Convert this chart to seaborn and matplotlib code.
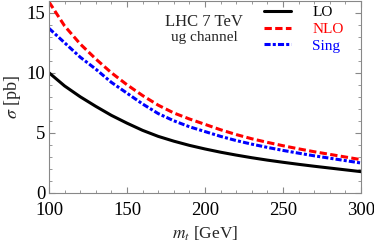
import pandas as pd
import matplotlib.pyplot as plt
import seaborn as sns

# top quark mass (GeV) and cross sections (pb)
mt = [100, 110, 120, 130, 140, 150, 160, 170, 180, 190, 200,
      210, 220, 230, 240, 250, 260, 270, 280, 290, 300]
lo = [10.0, 8.9, 8.0, 7.2, 6.45, 5.8, 5.2, 4.7, 4.3, 3.95, 3.65,
      3.38, 3.14, 2.92, 2.72, 2.54, 2.37, 2.21, 2.06, 1.91, 1.76]
nlo = [15.9, 13.9, 12.4, 11.15, 10.0, 9.0, 8.1, 7.3, 6.65, 6.15, 5.7,
       5.25, 4.85, 4.5, 4.2, 3.92, 3.66, 3.42, 3.2, 2.98, 2.76]
sing = [13.7, 12.5, 11.3, 10.3, 9.2, 8.3, 7.4, 6.6, 6.0, 5.5, 5.1,
        4.7, 4.35, 4.05, 3.78, 3.53, 3.3, 3.08, 2.88, 2.68, 2.48]
labels = ['LO', 'NLO', 'Sing']
colors = ['black', 'red', 'blue']

sns.set_style('ticks')
plt.rcParams['font.family'] = ['Liberation Serif', 'DejaVu Serif']
plt.rcParams['mathtext.fontset'] = 'stix'

df = pd.DataFrame({'mt': mt * 3, 'sigma': lo + nlo + sing,
                   'curve': [l for l in labels for _ in mt]})

fig = plt.figure(figsize=(3.74, 2.44), dpi=100)
ax = fig.add_axes([0.131, 0.21, 0.834, 0.787])
dashes = {'LO': '', 'NLO': (2.4, 1.1), 'Sing': (2.0, 0.7, 1.0, 0.7)}
sns.lineplot(data=df, x='mt', y='sigma', hue='curve', style='curve',
             palette=dict(zip(labels, colors)), dashes=dashes,
             linewidth=2.2, ax=ax, legend=False)

ax.set_xlim(100, 300)
ax.set_ylim(0, 16)
ax.set_xticks([100, 150, 200, 250, 300])
ax.set_yticks([0, 5, 10, 15])
ax.minorticks_on()
ax.tick_params(which='both', direction='in', top=True, right=True, colors='#888888',
               labelcolor='black', labelsize=13.5)
ax.tick_params(which='major', length=4)
ax.tick_params(which='minor', length=2)
ax.tick_params(axis='x', which='major', pad=6.5)
ax.tick_params(axis='y', which='major', pad=2.5)
for s in ax.spines.values():
    s.set_color('#888888')
    s.set_linewidth(0.8)
ax.set_xlabel('$m_t$ [GeV]', fontsize=12.5, labelpad=4)
ax.set_ylabel(r'$\sigma$ [pb]', fontsize=13, labelpad=3)

ax.text(0.497, 0.87, 'LHC 7 TeV', transform=ax.transAxes, ha='center', fontsize=12)
ax.text(0.497, 0.79, 'ug channel', transform=ax.transAxes, ha='center', fontsize=11)

handles = ax.get_lines()[:3]
leg = ax.legend(handles, labels, loc='upper right', bbox_to_anchor=(0.945, 0.975),
                frameon=False, fontsize=11, handlelength=1.75, handletextpad=1.4,
                labelspacing=0.2, borderaxespad=0, borderpad=0)
for t, c in zip(leg.get_texts(), colors):
    t.set_color(c)

fig.savefig('out.png', dpi=100)
